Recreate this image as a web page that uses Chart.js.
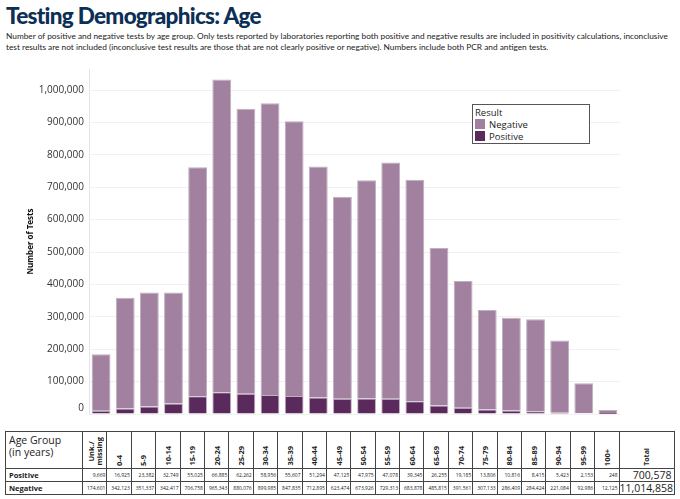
<!DOCTYPE html>
<html>
<head>
<meta charset="utf-8">
<script src="https://cdn.jsdelivr.net/npm/chart.js@4"></script>
<style>
  body { margin:0; width:680px; height:499px; background:#fff; position:relative; overflow:hidden; font-family:"Open Sans", sans-serif; }
  #title { position:absolute; left:6px; top:2px; font-family:Lato, sans-serif; font-weight:900; font-size:22.5px; color:#0c2f55; letter-spacing:-0.7px; }
  #sub { position:absolute; left:6px; top:31px; width:674px; font-family:Lato, sans-serif; font-size:8.3px; line-height:11px; color:#222; white-space:nowrap; }
  #wrap { position:absolute; left:0; top:58px; width:680px; height:373px; }
  #leg { position:absolute; left:472px; top:104px; width:114px; height:36px; border:1px solid #555; background:#fff; font-size:9.5px; color:#222; padding:2px 0 0 2px; box-sizing:content-box; }
  #leg div { line-height:12px; }
  #leg i { display:inline-block; width:10px; height:10px; vertical-align:-1px; margin-right:4px; }
  #tbl { position:absolute; left:5px; top:431px; border-collapse:collapse; table-layout:fixed; width:669px; border:1.5px solid #333; }
  #tbl td { border:1px solid #444; padding:0; overflow:hidden; color:#222; white-space:nowrap; }
  #tbl .hd { height:32px; vertical-align:bottom; text-align:center; line-height:8px; }
  #tbl .rot { writing-mode:vertical-rl; transform:rotate(180deg); font-weight:bold; font-size:7.5px; line-height:8px; display:inline-block; padding-top:2px; }
  #tbl .ag { height:32px; font-size:10.5px; line-height:12px; vertical-align:top; padding:2px 3px; white-space:normal; }
  #tbl .row td { height:12px; line-height:11px; }
  #tbl .lbl { font-weight:bold; font-size:7.5px; padding-left:3px; }
  #tbl .num { font-size:5px; text-align:right; padding-right:1px; }
  #tbl .tot { font-size:10.5px; text-align:right; padding-right:2px; }
</style>
</head>
<body>
<div id="title">Testing Demographics: Age</div>
<div id="sub">Number of positive and negative tests by age group. Only tests reported by laboratories reporting both positive and negative results are included in positivity calculations, inconclusive<br>test results are not included (inconclusive test results are those that are not clearly positive or negative). Numbers include both PCR and antigen tests.</div>
<div id="wrap"><canvas id="c"></canvas></div>
<div id="leg">
  <div>Result</div>
  <div><i style="background:#a1819f"></i>Negative</div>
  <div><i style="background:#5b2a5c"></i>Positive</div>
</div>
<table id="tbl"></table>
<script>
const ageGroups = ["Unk./ missing","0-4","5-9","10-14","15-19","20-24","25-29","30-34","35-39","40-44","45-49","50-54","55-59","60-64","65-69","70-74","75-79","80-84","85-89","90-94","95-99","100+"];
const positive = [9669,16925,23382,32749,55025,66885,62262,58956,55607,51294,47125,47975,47078,39345,26255,19185,13806,10816,8415,5423,2153,248];
const negative = [174601,342123,351337,342417,706758,965343,880076,899985,847835,712895,623474,673926,729313,683878,485815,391561,307133,286409,284424,221084,92986,12125];
const totals = [700578, 11014858];
const yTicks = [0,100000,200000,300000,400000,500000,600000,700000,800000,900000,1000000];

const colNeg = "#a1819f";
const colPos = "#5b2a5c";

new Chart(document.getElementById("c"), {
  type: "bar",
  data: {
    labels: ageGroups,
    datasets: [
      { label:"Positive", data:positive, backgroundColor:colPos, borderColor:"rgba(70,30,70,0.35)", borderWidth:{top:1,left:1,right:1,bottom:0}, barPercentage:0.78, categoryPercentage:1 },
      { label:"Negative", data:negative, backgroundColor:colNeg, borderColor:"rgba(110,80,110,0.45)", borderWidth:{top:1,left:1,right:1,bottom:0}, barPercentage:0.78, categoryPercentage:1 }
    ]
  },
  options: {
    responsive:true, maintainAspectRatio:false, animation:false,
    layout:{ padding:{ top:7, right:60, bottom:2.5, left:0 } },
    plugins:{ legend:{ display:false }, tooltip:{ enabled:false } },
    scales:{
      x:{ stacked:true, display:false },
      y:{
        stacked:true, min:0, max:1065000,
        afterBuildTicks:(s)=>{ s.ticks = yTicks.map(v=>({value:v})); },
        afterFit:(s)=>{ s.width = 89; },
        grid:{ color:"#f1f1f1", drawTicks:false },
        border:{ color:"#e4e4e4" },
        ticks:{ padding:5, color:"#333", font:{ family:"Open Sans", size:10 },
          callback:(v)=> v===0 ? ["0",""] : v.toLocaleString("en-US") },
        title:{ display:true, text:"Number of Tests", color:"#111", font:{ family:"Open Sans", size:8, weight:"bold" }, padding:{ top:26, bottom:0 } }
      }
    }
  }
});

// table under the chart
const tbl = document.getElementById("tbl");
let html = '<colgroup><col style="width:77px">' + ageGroups.map(()=>'<col style="width:24.4px">').join("") + '<col style="width:55px"></colgroup>';
html += '<tr><td class="ag">Age Group<br>(in years)</td>' +
  ageGroups.map(g=>`<td class="hd"><span class="rot">${g.replace("/ ","/<br>")}</span></td>`).join("") +
  '<td class="hd"><span class="rot" style="font-size:7px">Total</span></td></tr>';
html += '<tr class="row"><td class="lbl">Positive</td>' + positive.map(v=>`<td class="num">${v.toLocaleString("en-US")}</td>`).join("") +
  `<td class="tot">${totals[0].toLocaleString("en-US")}</td></tr>`;
html += '<tr class="row"><td class="lbl">Negative</td>' + negative.map(v=>`<td class="num">${v.toLocaleString("en-US")}</td>`).join("") +
  `<td class="tot">${totals[1].toLocaleString("en-US")}</td></tr>`;
tbl.innerHTML = html;
</script>
</body>
</html>
